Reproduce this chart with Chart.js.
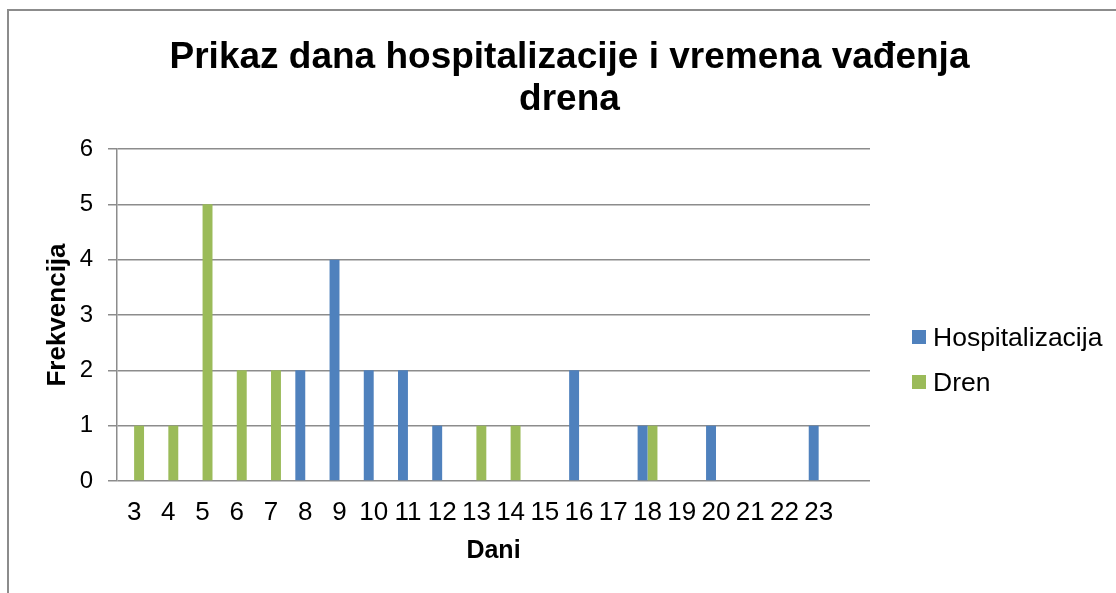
<!DOCTYPE html>
<html>
<head>
<meta charset="utf-8">
<script src="https://cdn.jsdelivr.net/npm/chart.js@4.4.1/dist/chart.umd.min.js"></script>
<style>
  html, body { margin: 0; padding: 0; background: #fff; overflow: hidden; }
  #wrap { position: relative; width: 1116px; height: 593px; }
  #frame { position: absolute; left: 7px; top: 9px; width: 1200px; height: 700px; border: 2px solid #8c8c8c; box-sizing: border-box; }
  canvas { position: absolute; left: 0; top: 0; }
  .leg { position: absolute; left: 912px; font-family: "Liberation Sans", Arial, sans-serif; font-size: 26.5px; color: #000; line-height: 30px; height: 30px; }
  .leg span.box { position: absolute; left: 0; top: 8px; width: 14px; height: 14px; }
  .leg span.txt { position: absolute; left: 21px; top: 0; white-space: nowrap; }
</style>
</head>
<body>
<div id="wrap">
  <div id="frame"></div>
  <canvas id="c" width="1116" height="593"></canvas>
  <div class="leg" style="top:322px"><span class="box" style="background:#4F81BD"></span><span class="txt">Hospitalizacija</span></div>
  <div class="leg" style="top:367px"><span class="box" style="background:#9BBB59"></span><span class="txt">Dren</span></div>
</div>
<script>
const titleLines = ['Prikaz dana hospitalizacije i vremena vađenja', 'drena'];
const categories = ['3','4','5','6','7','8','9','10','11','12','13','14','15','16','17','18','19','20','21','22','23',''];
const hospitalizacija = [0,0,0,0,0,2,4,2,2,1,0,0,0,2,0,1,0,1,0,0,1,0];
const dren = [1,1,5,2,2,0,0,0,0,0,1,1,0,0,0,1,0,0,0,0,0,0];
const seriesNames = ['Hospitalizacija', 'Dren'];
const seriesColors = ['#4F81BD', '#9BBB59'];
const yTicks = [0,1,2,3,4,5,6];

const FONT = '"Liberation Sans", Arial, sans-serif';
const gridColor = '#8c8c8c';

new Chart(document.getElementById('c'), {
  type: 'bar',
  data: {
    labels: categories,
    datasets: [
      { label: seriesNames[0], data: hospitalizacija, backgroundColor: seriesColors[0], borderWidth: 0, categoryPercentage: 0.58, barPercentage: 1.0 },
      { label: seriesNames[1], data: dren, backgroundColor: seriesColors[1], borderWidth: 0, categoryPercentage: 0.58, barPercentage: 1.0 }
    ]
  },
  options: {
    responsive: false,
    animation: false,
    devicePixelRatio: 1,
    layout: { padding: { left: 23, right: 0, top: 0, bottom: 0 } },
    plugins: {
      legend: { display: false },
      tooltip: { enabled: false },
      title: {
        display: true,
        text: titleLines,
        color: '#000',
        font: { family: FONT, size: 37, weight: 'bold', lineHeight: 1.135 },
        padding: { top: 37, bottom: 28 }
      }
    },
    scales: {
      x: {
        grid: { display: false, drawTicks: false },
        border: { display: false },
        ticks: { color: '#000', font: { family: FONT, size: 26 }, padding: 16, autoSkip: false, maxRotation: 0, minRotation: 0 },
        title: { display: true, text: 'Dani', color: '#000', font: { family: FONT, size: 25, weight: 'bold', lineHeight: 1.2 }, padding: { top: 2, bottom: 26.5 } },
        afterFit(s) { s.height = 112; }
      },
      y: {
        min: 0, max: 6,
        afterBuildTicks(s) { s.ticks = yTicks.map(v => ({ value: v })); },
        grid: { color: gridColor, lineWidth: 1.5, drawTicks: true, tickLength: 9 },
        border: { display: true, color: gridColor, width: 1.5 },
        ticks: { color: '#000', font: { family: FONT, size: 24 }, padding: 15 },
        title: { display: true, text: 'Frekvencija', color: '#000', font: { family: FONT, size: 26, weight: 'bold', lineHeight: 1.2 }, padding: { top: 19, bottom: 2 } },
        afterFit(s) { s.width = 94; }
      },
      yR: {
        position: 'right',
        display: true,
        grid: { display: false, drawTicks: false },
        border: { display: false },
        ticks: { display: false },
        afterFit(s) { s.width = 246; }
      }
    }
  }
});
</script>
</body>
</html>
